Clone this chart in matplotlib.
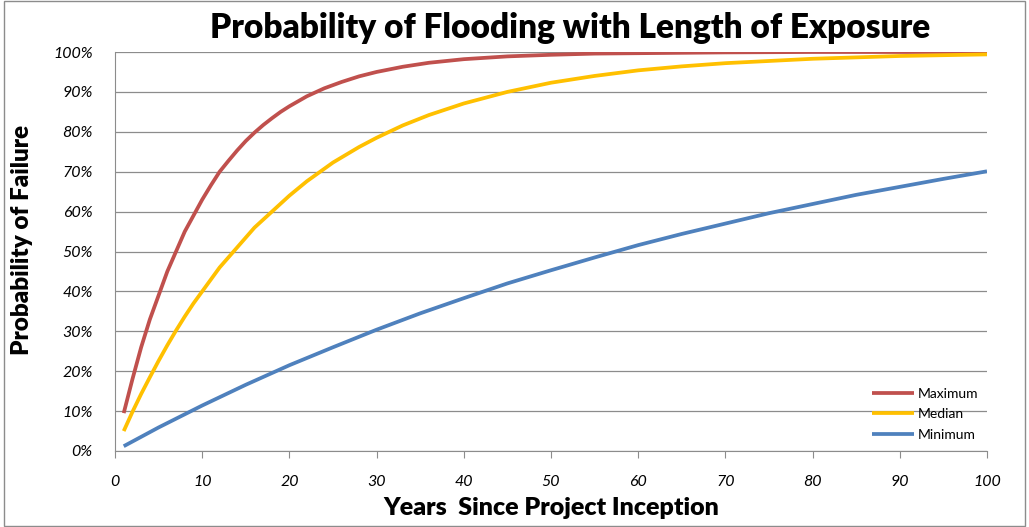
import matplotlib
matplotlib.use("Agg")
import matplotlib.pyplot as plt
from matplotlib.patches import Rectangle
from matplotlib.ticker import FuncFormatter

plt.rcParams['font.family'] = ['Lato', 'DejaVu Sans']

# values (percent)
max_years = [1, 2, 3, 4, 5, 6, 7, 8, 9, 10, 11, 12, 13, 14, 15, 16, 17, 18, 19, 20, 22, 24, 26, 28, 30,
             33, 36, 40, 45, 50, 55, 60, 70, 80, 90, 100]
max_prob = [9.5, 18, 26, 33, 39, 45, 50, 55, 59, 63, 66.6, 70, 72.7, 75.3, 77.7, 79.8, 81.7, 83.4, 85,
            86.4, 88.9, 90.9, 92.5, 93.9, 95, 96.3, 97.3, 98.2, 98.9, 99.3, 99.6, 99.7, 99.9, 100, 100, 100]

med_years = [1, 2, 3, 4, 5, 6, 7, 8, 9, 10, 12, 14, 16, 18, 20, 22, 25, 28, 30, 33, 36, 40, 45, 50,
             55, 60, 65, 70, 80, 90, 100]
med_prob = [5, 9.8, 14.3, 18.5, 22.6, 26.5, 30.2, 33.7, 37, 40, 46, 51, 56, 60, 64, 67.6, 72.3, 76.2,
            78.5, 81.6, 84.2, 87.1, 90, 92.3, 94, 95.4, 96.4, 97.2, 98.3, 99, 99.4]

min_years = [1, 5, 10, 15, 20, 25, 30, 35, 40, 45, 50, 55, 60, 65, 70, 75, 80, 85, 90, 95, 100]
min_prob = [1.2, 5.9, 11.4, 16.6, 21.5, 26, 30.4, 34.5, 38.3, 42, 45.3, 48.5, 51.6, 54.4, 57, 59.6,
            61.9, 64.2, 66.2, 68.2, 70.1]

fig = plt.figure(figsize=(10.29, 5.27), dpi=100)
ax = fig.add_axes([115 / 1029, 1 - 451 / 527, 872 / 1029, 399 / 527])

ax.plot(max_years, max_prob, color='#C0504D', lw=2.7, label='Maximum', solid_capstyle='butt')
ax.plot(med_years, med_prob, color='#FFC000', lw=2.7, label='Median', solid_capstyle='butt')
ax.plot(min_years, min_prob, color='#4F81BD', lw=2.7, label='Minimum', solid_capstyle='butt')

ax.set_xlim(0, 100)
ax.set_ylim(0, 100)
ax.set_xticks(range(0, 101, 10))
ax.set_yticks(range(0, 101, 10))
ax.yaxis.set_major_formatter(FuncFormatter(lambda v, p: f"{int(v)}%"))
ax.grid(axis='y', color='#8c8c8c', lw=0.9)
ax.set_axisbelow(True)
for s in ['top', 'right']:
    ax.spines[s].set_visible(False)
for s in ['left', 'bottom']:
    ax.spines[s].set_color('#8c8c8c')
ax.tick_params(axis='x', direction='out', length=5, color='#8c8c8c', pad=12)
ax.tick_params(axis='y', length=0, pad=16)
for lab in ax.get_xticklabels() + ax.get_yticklabels():
    lab.set_fontstyle('italic')
    lab.set_fontsize(11.5)

ax.set_xlabel('Years  Since Project Inception', fontsize=18, fontweight='heavy', labelpad=6)
ax.set_ylabel('Probability of Failure', fontsize=17.5, fontweight='heavy')
ax.yaxis.set_label_coords(-0.094, 0.53)
fig.text(570 / 1029, 1 - 28 / 527, 'Probability of Flooding with Length of Exposure',
         ha='center', va='center', fontsize=24, fontweight='heavy')

leg = ax.legend(loc='lower right', bbox_to_anchor=(1.0, 0.005), frameon=False,
                fontsize=10, handlelength=3, handletextpad=0.3, labelspacing=0.6,
                borderaxespad=0.2)

fig.patches.append(Rectangle((0.004, 0.002), 0.992, 0.996, transform=fig.transFigure,
                             fill=False, edgecolor='#8c8c8c', lw=1))

fig.savefig('out.png', dpi=100)
